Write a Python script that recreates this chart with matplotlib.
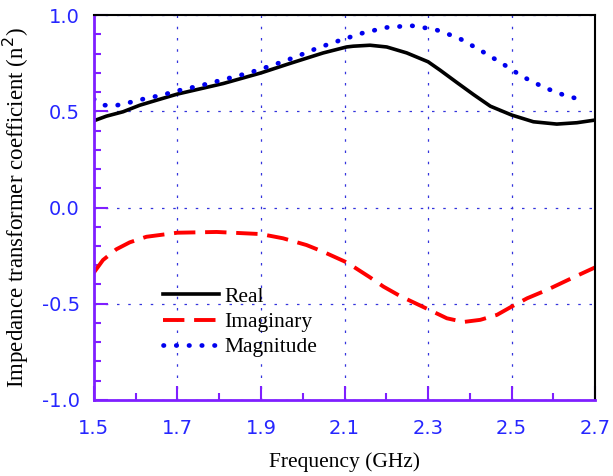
import matplotlib.pyplot as plt
from matplotlib.ticker import MultipleLocator

# Real part of n^2
freq_re = [1.50, 1.53, 1.57, 1.61, 1.65, 1.70, 1.754, 1.81, 1.90, 1.969, 2.049,
           2.105, 2.121, 2.161, 2.201, 2.249, 2.30, 2.329, 2.369, 2.409, 2.449,
           2.50, 2.552, 2.608, 2.656, 2.70]
real = [0.451, 0.475, 0.498, 0.532, 0.558, 0.590, 0.617, 0.645, 0.700, 0.749, 0.804,
        0.835, 0.839, 0.844, 0.835, 0.804, 0.758, 0.714, 0.650, 0.587, 0.527,
        0.481, 0.446, 0.434, 0.441, 0.455]

# Imaginary part
freq_im = [1.50, 1.522, 1.554, 1.586, 1.626, 1.70, 1.794, 1.90, 1.953, 2.009, 2.049,
           2.105, 2.121, 2.161, 2.193, 2.233, 2.30, 2.345, 2.385, 2.425, 2.465,
           2.50, 2.537, 2.584, 2.648, 2.70]
imag = [-0.339, -0.273, -0.217, -0.181, -0.152, -0.131, -0.127, -0.138, -0.160, -0.195,
        -0.230, -0.285, -0.307, -0.363, -0.411, -0.460, -0.529, -0.576, -0.595, -0.584,
        -0.558, -0.515, -0.472, -0.429, -0.363, -0.311]

# Magnitude
freq_mag = [1.50, 1.526, 1.556, 1.585, 1.614, 1.644, 1.672, 1.70, 1.757, 1.815, 1.871,
            1.928, 1.983, 2.036, 2.086, 2.141, 2.199, 2.259, 2.317, 2.373, 2.425,
            2.476, 2.526, 2.578, 2.632, 2.671]
mag = [0.564, 0.532, 0.532, 0.546, 0.562, 0.576, 0.590, 0.607, 0.635, 0.668, 0.700,
       0.740, 0.783, 0.830, 0.867, 0.906, 0.936, 0.946, 0.926, 0.882, 0.818,
       0.751, 0.681, 0.624, 0.579, 0.560]

x_ticks = [1.5, 1.7, 1.9, 2.1, 2.3, 2.5, 2.7]
y_ticks = [-1.0, -0.5, 0.0, 0.5, 1.0]

purple = '#7f1fff'
tick_blue = '#2626ff'

fig = plt.figure(figsize=(6.13, 4.76), dpi=100)
ax = fig.add_axes([0.153, 0.160, 0.818, 0.808])

ax.plot(freq_re, real, color='black', lw=2.6, label='Real')
ax.plot(freq_im, imag, color='red', lw=2.8, linestyle=(0, (5.5, 2.5)), label='Imaginary')
ax.plot(freq_mag, mag, color='#0000ee', lw=3.4, linestyle=(0, (0.1, 2.6)),
        dash_capstyle='round', label='Magnitude')

ax.set_xlim(1.5, 2.7)
ax.set_ylim(-1.0, 1.0)
ax.set_xticks(x_ticks)
ax.set_yticks(y_ticks)
ax.xaxis.set_minor_locator(MultipleLocator(0.1))
ax.yaxis.set_minor_locator(MultipleLocator(0.1))
ax.xaxis.set_major_formatter(plt.FormatStrFormatter('%.1f'))
ax.yaxis.set_major_formatter(plt.FormatStrFormatter('%.1f'))

ax.grid(True, which='major', color='#3333dd', lw=0.9, linestyle=(0, (2, 7)))

ax.tick_params(which='both', direction='in', color=purple, width=1.5,
               labelcolor=tick_blue, labelsize=14, top=False, right=False)
ax.tick_params(which='major', length=10)
ax.tick_params(axis='x', which='major', pad=14)
ax.tick_params(axis='y', which='major', pad=10)
ax.tick_params(which='minor', length=5)

for side in ['left', 'bottom']:
    ax.spines[side].set_color(purple)
    ax.spines[side].set_linewidth(2)
for side in ['top', 'right']:
    ax.spines[side].set_color('black')
    ax.spines[side].set_linewidth(1.5)

ax.set_xlabel('Frequency (GHz)', family='Liberation Serif', fontsize=15.5, labelpad=10)
ax.set_ylabel('Impedance transformer coefficient (n$^2$)', family='Liberation Serif',
              fontsize=16.5, labelpad=8)

ax.legend(loc='upper left', bbox_to_anchor=(0.10, 0.345), frameon=False,
          handlelength=2.6, handletextpad=0.25, labelspacing=0.25,
          prop={'family': 'Liberation Serif', 'size': 15.5})

fig.savefig('out.png', dpi=100)
